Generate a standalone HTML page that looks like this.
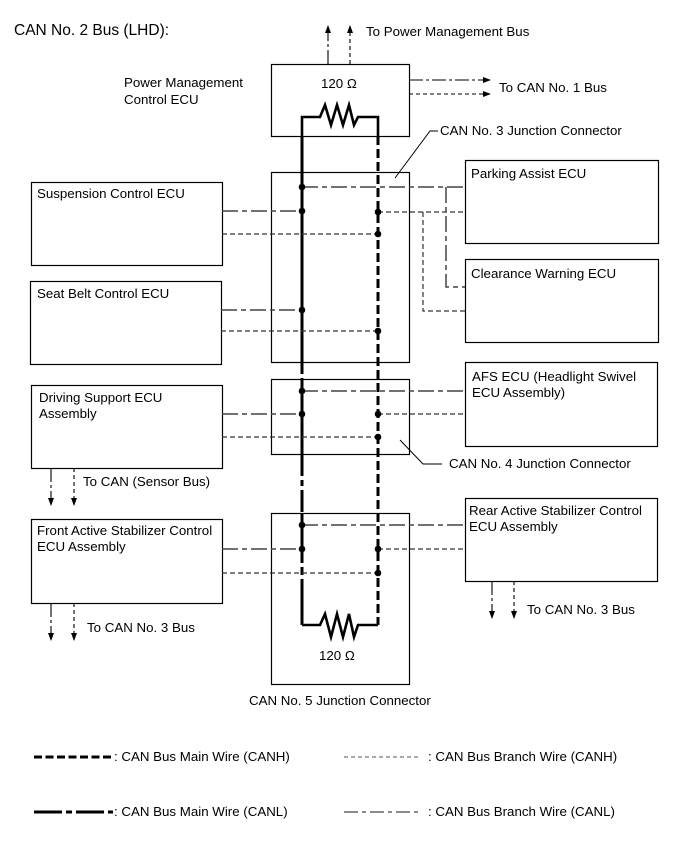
<!DOCTYPE html>
<html><head><meta charset="utf-8"><style>
html,body{margin:0;padding:0;background:#fff;}
svg{display:block;}
text{font-family:"Liberation Sans",Arial,sans-serif;font-size:13.3px;fill:#000;}
</style></head><body>
<svg width="689" height="854" viewBox="0 0 689 854" xmlns="http://www.w3.org/2000/svg">
<defs>
<marker id="ah" markerWidth="8" markerHeight="8" refX="7" refY="4" orient="auto" markerUnits="userSpaceOnUse">
<path d="M0,1 L8,4 L0,7 z" fill="#000"/>
</marker>
</defs>
<text x="14" y="35" style="font-size:15.5px">CAN No. 2 Bus (LHD):</text>

<g fill="none" stroke="#000" stroke-width="1.2">
<rect x="271.5" y="64.5" width="138" height="72"/>
<rect x="271.5" y="172.5" width="138" height="190"/>
<rect x="271.5" y="379.5" width="138" height="75"/>
<rect x="271.5" y="513.5" width="138" height="171"/>
<rect x="31.5" y="182.5" width="191" height="83"/>
<rect x="30.5" y="281.5" width="191" height="83"/>
<rect x="31.5" y="385.5" width="191" height="83"/>
<rect x="31.5" y="519.5" width="191" height="84"/>
<rect x="465.5" y="160.5" width="193" height="83"/>
<rect x="465.5" y="259.5" width="193" height="83"/>
<rect x="465.5" y="362.5" width="192" height="84"/>
<rect x="465.5" y="498.5" width="192" height="83"/>
</g>

<g stroke="#000" stroke-width="1" fill="none">
<path d="M395,178 L430,131 L438,131"/>
<path d="M400,440 L423,464 L442,464"/>
</g>

<g fill="none" stroke="#000" stroke-width="3">
<path d="M302,136 V117 H320 L325,105 L331,125 L337,105 L343,125 L349,105 L354,125 L358,117 H378 V136" stroke-width="2.6"/>
<path d="M302,625 H320 L325,614 L331,637 L337,614 L343,637 L349,614 L354,637 L358,625 H378" stroke-width="2.6"/>
<path d="M302,136 V172"/>
<path d="M302,172 V362"/>
<path d="M302,362 V379" stroke-dasharray="12,4"/>
<path d="M302,379 V454"/>
<path d="M302,454 V513" stroke-dasharray="22,4,6,4"/>
<path d="M302,513 V625" stroke-dasharray="50,4,8,4"/>
<path d="M378,136 V625" stroke-dasharray="9,4"/>
</g>

<g fill="none" stroke="#444" stroke-width="1.5" stroke-dasharray="16,4,5,4">
<path d="M302,187 H465"/>
<path d="M446,187 V287 H465"/>
<path d="M222,211 H302"/>
<path d="M221,310 H302"/>
<path d="M302,391 H465"/>
<path d="M222,414 H302"/>
<path d="M302,525 H465"/>
<path d="M222,549 H302"/>
</g>
<g fill="none" stroke="#333" stroke-width="1.2" stroke-dasharray="5,3">
<path d="M378,212 H465"/>
<path d="M423,212 V311 H465"/>
<path d="M222,234 H378"/>
<path d="M221,331 H378"/>
<path d="M378,414 H465"/>
<path d="M222,437 H378"/>
<path d="M378,549 H465"/>
<path d="M222,573 H378"/>
</g>

<g fill="#000">
<circle cx="302" cy="187" r="3.3"/><circle cx="302" cy="211" r="3.3"/><circle cx="302" cy="310" r="3.3"/>
<circle cx="302" cy="391" r="3.3"/><circle cx="302" cy="414" r="3.3"/><circle cx="302" cy="525" r="3.3"/><circle cx="302" cy="549" r="3.3"/>
<circle cx="378" cy="212" r="3.3"/><circle cx="378" cy="234" r="3.3"/><circle cx="378" cy="331" r="3.3"/>
<circle cx="378" cy="414" r="3.3"/><circle cx="378" cy="437" r="3.3"/><circle cx="378" cy="549" r="3.3"/><circle cx="378" cy="573" r="3.3"/>
</g>

<g fill="none" stroke="#000" stroke-width="1.1">
<path d="M328,64 V26" stroke-dasharray="14,3,3,3" marker-end="url(#ah)"/>
<path d="M350,64 V26" stroke-dasharray="4,3" marker-end="url(#ah)"/>
<path d="M409,80 H490" stroke-dasharray="14,3,3,3" marker-end="url(#ah)"/>
<path d="M409,94 H490" stroke-dasharray="4,3" marker-end="url(#ah)"/>
<path d="M51,468 V505" stroke-dasharray="14,3,3,3" marker-end="url(#ah)"/>
<path d="M74,468 V505" stroke-dasharray="4,3" marker-end="url(#ah)"/>
<path d="M51,603 V640" stroke-dasharray="14,3,3,3" marker-end="url(#ah)"/>
<path d="M74,603 V640" stroke-dasharray="4,3" marker-end="url(#ah)"/>
<path d="M492,581 V618" stroke-dasharray="14,3,3,3" marker-end="url(#ah)"/>
<path d="M514,581 V618" stroke-dasharray="4,3" marker-end="url(#ah)"/>
</g>

<text x="366" y="36">To Power Management Bus</text>
<text x="124" y="87">Power Management</text>
<text x="124" y="104">Control ECU</text>
<text x="321" y="88">120 Ω</text>
<text x="499" y="92">To CAN No. 1 Bus</text>
<text x="440" y="135">CAN No. 3 Junction Connector</text>
<text x="37" y="198">Suspension Control ECU</text>
<text x="471" y="178">Parking Assist ECU</text>
<text x="471" y="278">Clearance Warning ECU</text>
<text x="37" y="298">Seat Belt Control ECU</text>
<text x="39" y="402">Driving Support ECU</text>
<text x="39" y="418">Assembly</text>
<text x="472" y="381">AFS ECU (Headlight Swivel</text>
<text x="472" y="397">ECU Assembly)</text>
<text x="449" y="468">CAN No. 4 Junction Connector</text>
<text x="83" y="486">To CAN (Sensor Bus)</text>
<text x="469" y="515">Rear Active Stabilizer Control</text>
<text x="469" y="531">ECU Assembly</text>
<text x="37" y="535">Front Active Stabilizer Control</text>
<text x="37" y="551">ECU Assembly</text>
<text x="527" y="614">To CAN No. 3 Bus</text>
<text x="87" y="632">To CAN No. 3 Bus</text>
<text x="319" y="660">120 Ω</text>
<text x="249" y="705">CAN No. 5 Junction Connector</text>

<g fill="none" stroke="#000">
<path d="M34,757 H113" stroke-width="3" stroke-dasharray="8,3.5"/>
<path d="M344,757 H420" stroke-width="1" stroke="#555" stroke-dasharray="4,3"/>
<path d="M34,812 H113" stroke-width="3" stroke-dasharray="28,4,6,4"/>
<path d="M344,812 H420" stroke-width="1.2" stroke="#444" stroke-dasharray="14,4,4,4"/>
</g>
<text x="114" y="761">: CAN Bus Main Wire (CANH)</text>
<text x="428" y="761">: CAN Bus Branch Wire (CANH)</text>
<text x="114" y="816">: CAN Bus Main Wire (CANL)</text>
<text x="428" y="816">: CAN Bus Branch Wire (CANL)</text>
</svg>
</body></html>
